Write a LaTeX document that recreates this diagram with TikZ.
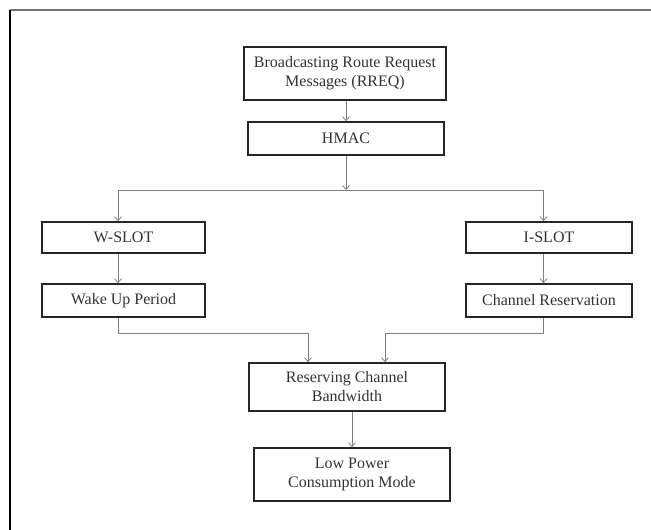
\documentclass[tikz,border=0pt]{standalone}
\usepackage{fontspec}
\setmainfont{Liberation Serif}
\usetikzlibrary{arrows.meta}
\begin{document}
\begin{tikzpicture}[x=1pt,y=-1pt,>={Straight Barb[length=4pt,width=7pt]},
    blk/.style={draw=black!85,line width=1.6pt,align=center,inner sep=0pt,
        text=black!80,font=\fontsize{16}{19}\selectfont},
    arr/.style={draw=black!50,line width=0.8pt,->}]
    \useasboundingbox (0,0) rectangle (651,530);
    %% frame
    \draw[black!55,line width=1.5pt] (10,10) -- (651,10);
    \draw[black,line width=1.2pt] (10,10) -- (10,530);
    %% boxes
    \node[blk,minimum width=202pt,minimum height=53pt] (rreq) at (345,73.5) {Broadcasting Route Request\\Messages (RREQ)};
    \node[blk,minimum width=196pt,minimum height=33pt] (hmac) at (346,138.5) {HMAC};
    \node[blk,minimum width=163pt,minimum height=31pt] (wslot) at (123.5,237.5) {W-SLOT};
    \node[blk,minimum width=166pt,minimum height=31pt] (islot) at (549,237.5) {I-SLOT};
    \node[blk,minimum width=163pt,minimum height=33pt] (wake) at (123.5,300.5) {Wake Up Period};
    \node[blk,minimum width=166pt,minimum height=33pt] (chres) at (549,300.5) {Channel Reservation};
    \node[blk,minimum width=196pt,minimum height=48pt] (resv) at (347,387) {Reserving Channel\\Bandwidth};
    \node[blk,minimum width=196pt,minimum height=53pt] (lpm) at (352,474.5) {Low Power\\Consumption Mode};
    %% split and merge levels
    \coordinate (split) at (0,190);
    \coordinate (merge) at (0,333);
    %% RREQ to HMAC
    \draw[arr] (rreq.south -| hmac) -- (hmac.north);
    %% HMAC to slots
    \draw[arr] (hmac.south) -- (hmac.south |- split);
    \draw[draw=black!50,line width=0.8pt] ([xshift=-5.5pt]wslot.north |- split) -- ([xshift=-5.5pt]islot.north |- split);
    \draw[arr] ([xshift=-5.5pt]wslot.north |- split) -- ([xshift=-5.5pt]wslot.north);
    \draw[arr] ([xshift=-5.5pt]islot.north |- split) -- ([xshift=-5.5pt]islot.north);
    %% slots to periods
    \draw[arr] ([xshift=-5.5pt]wslot.south) -- ([xshift=-5.5pt]wake.north);
    \draw[arr] ([xshift=-5.5pt]islot.south) -- ([xshift=-5.5pt]chres.north);
    %% periods to reserving
    \draw[arr] ([xshift=-5.5pt]wake.south) -- ([xshift=-5.5pt]wake.south |- merge) -| ([xshift=-39pt]resv.north);
    \draw[arr] ([xshift=-5.5pt]chres.south) -- ([xshift=-5.5pt]chres.south |- merge) -| ([xshift=38pt]resv.north);
    %% reserving to low power
    \draw[arr] (resv.south -| lpm) -- (lpm.north);
\end{tikzpicture}
\end{document}
